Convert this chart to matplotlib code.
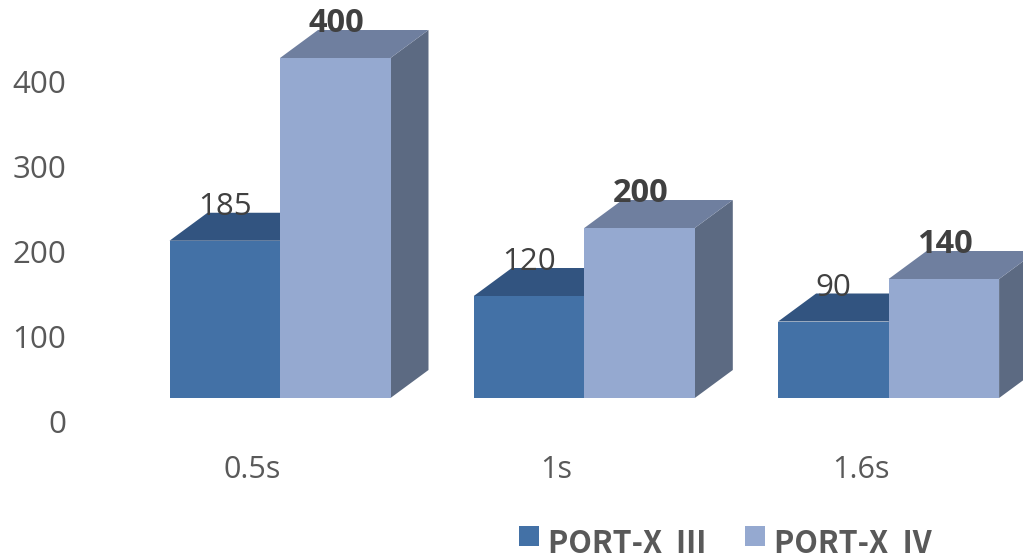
import matplotlib
matplotlib.use("Agg")
import matplotlib.pyplot as plt
from matplotlib.patches import Polygon, Rectangle

plt.rcParams['font.family'] = ['Open Sans', 'Noto Sans CJK KR', 'DejaVu Sans']

# Data ==========================================
categories = ['0.5s', '1s', '1.6s']
series_names = ['PORT-X  Ⅲ', 'PORT-X  Ⅳ']
port_x3 = [185, 120, 90]
port_x4 = [400, 200, 140]
y_ticks = [0, 100, 200, 300, 400]

# Style =========================================
W, H = 1023, 556
dark_front, dark_top, dark_side = '#4371A6', '#325480', '#2F4D73'
light_front, light_top, light_side = '#95A9D0', '#6F7F9F', '#5C6A82'
text_color = '#595959'
label_color = '#404040'

# pixel layout
x0_px, group_px = 280.0, 304.3   # centre of first group, group spacing
base_px, per_unit = 398.0, 0.85  # y pixel of value 0, pixels per value
bar_w = 110.5 / group_px
dx, dy = 38 / group_px, 28 / per_unit

fig = plt.figure(figsize=(W / 100, H / 100), dpi=100)
ax = fig.add_axes([0, 0, 1, 1])
ax.set_xlim(-x0_px / group_px, (W - x0_px) / group_px)
ax.set_ylim(-(H - base_px) / per_unit, base_px / per_unit)
ax.axis('off')


def bar3d(left, value, front, top, side, z):
    right = left + bar_w
    ax.add_patch(Polygon([(right, 0), (right + dx, dy), (right + dx, value + dy), (right, value)],
                         fc=side, ec='none', zorder=z))
    ax.add_patch(Polygon([(left, value), (right, value), (right + dx, value + dy), (left + dx, value + dy)],
                         fc=top, ec='none', zorder=z))
    ax.add_patch(Rectangle((left, 0), bar_w, value, fc=front, ec='none', zorder=z + 0.1))


for i, cat in enumerate(categories):
    bar3d(i - bar_w, port_x3[i], dark_front, dark_top, dark_side, 2)
    bar3d(i, port_x4[i], light_front, light_top, light_side, 3)

    # value labels sit over the top face
    ax.text(i - 0.181, port_x3[i] + dy + 7, str(port_x3[i]), fontsize=22.5,
            color=label_color, ha='center', va='center', zorder=5)
    ax.text(i + 0.185, port_x4[i] + dy + 8, str(port_x4[i]), fontsize=23.5,
            fontweight='bold', color=label_color, ha='center', va='center', zorder=5)

    ax.text(i - 0.092, -85, cat, fontsize=22, color=text_color, ha='center', va='center')

for v in y_ticks:
    ax.text((66 - x0_px) / group_px, v - 32, str(v), fontsize=22.5, color=text_color,
            ha='right', va='center')

# Legend ========================================
for left_px, name, color in zip([519, 745], series_names, [dark_front, light_front]):
    lx = (left_px - x0_px) / group_px
    ax.add_patch(Rectangle((lx, (base_px - 546) / per_unit), 20 / group_px, 20 / per_unit,
                           fc=color, ec='none'))
    ax.text(lx + 29 / group_px, (base_px - 544) / per_unit, name, fontsize=22, fontweight='bold',
            family=['Noto Sans CJK KR', 'DejaVu Sans'], color=text_color, ha='left', va='center')

fig.savefig('out.png', dpi=100)
